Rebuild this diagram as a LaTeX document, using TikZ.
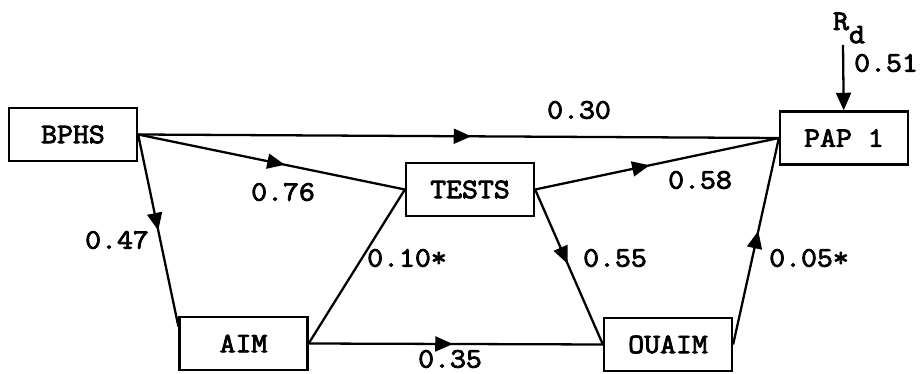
\documentclass[tikz,border=0pt]{standalone}
\usepackage{fontspec}
\setmonofont{Latin Modern Mono}[FakeBold=3, FakeStretch=1.1]
\usetikzlibrary{arrows.meta,decorations.markings}

\begin{document}
\begin{tikzpicture}[x=0.02cm, y=-0.02cm, line width=1.3pt,
    font=\ttfamily\fontsize{16}{19}\selectfont,
    var/.style={draw, minimum width=2.56cm, minimum height=1.06cm, inner sep=0pt},
    coef/.style={inner sep=0pt},
    mid/.style={postaction={decorate, decoration={markings,
        mark=at position #1 with {\arrow{Triangle[length=10pt, width=8.5pt]}}}}}]
  \useasboundingbox (0,0) rectangle (922,374);

  % variables
  \node[var] (BPHS)  at (73,134.5)  {BPHS};
  \node[var] (TESTS) at (470,189.5) {TESTS};
  \node[var] (PAP)   at (844,138)   {PAP 1};
  \node[var] (AIM)   at (243.5,343.5) {AIM};
  \node[var] (OUAIM) at (668,344.5) {OUAIM};

  % residual
  \node[coef] (Rd) at (849,28) {R\raisebox{-1.1ex}{d}};
  \coordinate (rtop) at (843,45);
  \draw[-{Triangle[length=10pt, width=8.5pt]}] (rtop) -- (PAP);
  \node[coef] (l051) at (886,63) {0.51};

  % paths
  \draw[mid=0.52] (BPHS.east) -- (PAP.west);
  \draw[mid=0.55] (BPHS.east) -- (TESTS.west);
  \draw[mid=0.5]  (BPHS.east) -- ([yshift=-6pt]AIM.north west);
  \draw[mid=0.47] (TESTS.east) -- (PAP.west);
  \draw[mid=0.48] (TESTS.east) -- (OUAIM.west);
  \draw (AIM.east) -- (TESTS.west);
  \draw[mid=0.49] (AIM.east) -- (OUAIM.west);
  \draw[mid=0.55] (OUAIM.east) -- (PAP.west);

  % coefficients
  \node[coef] (l030) at (579,110) {0.30};
  \node[coef] (l076) at (283,192) {0.76};
  \node[coef] (l047) at (117,240) {0.47};
  \node[coef] (l058) at (700,180) {0.58};
  \node[coef] (l010) at (407,258) {0.10*};
  \node[coef] (l055) at (615,258) {0.55};
  \node[coef] (l005) at (809,258) {0.05*};
  \node[coef] (l035) at (450,359) {0.35};

\end{tikzpicture}
\end{document}
